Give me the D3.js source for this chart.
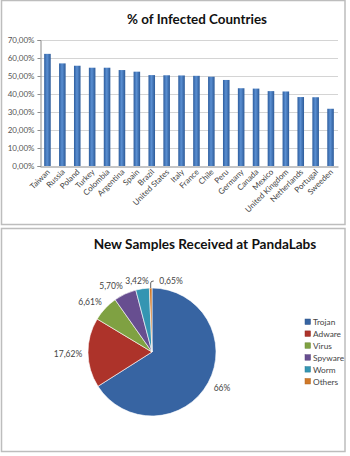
<!DOCTYPE html>
<html>
<head>
<meta charset="utf-8">
<script src="https://cdn.jsdelivr.net/npm/d3@7"></script>
<style>
  html, body { margin: 0; padding: 0; background: #fff; }
  svg { display: block; }
  text { font-family: Lato, "Open Sans", sans-serif; }
</style>
</head>
<body>
<svg id="chart" width="350" height="456"></svg>
<script>
// Infection rate by country
const countries = ["Taiwan", "Russia", "Poland", "Turkey", "Colombia", "Argentina", "Spain", "Brazil",
  "United States", "Italy", "France", "Chile", "Peru", "Germany", "Canada", "Mexico",
  "United Kingdom", "Netherlands", "Portugal", "Sweeden"];
const infected = [62.3, 57.0, 55.7, 54.6, 54.6, 53.3, 52.4, 50.5, 50.4, 50.3, 50.1, 49.6, 47.8,
  43.2, 43.0, 41.6, 41.4, 38.3, 38.2, 31.8];
const yTicks = [0, 10, 20, 30, 40, 50, 60, 70];

// Malware sample breakdown
const sampleTypes = ["Trojan", "Adware", "Virus", "Spyware", "Worm", "Others"];
const sampleShares = [66, 17.62, 6.61, 5.70, 3.42, 0.65];
const sampleLabels = ["66%", "17,62%", "6,61%", "5,70%", "3,42%", "0,65%"];
const sampleColors = ["#3d6fb4", "#c0392f", "#8db34a", "#7357a0", "#3aa6c6", "#e7862d"];

const svg = d3.select("#chart");
const defs = svg.append("defs");

// Panel frames
svg.append("rect").attr("x", 1.5).attr("y", 0.5).attr("width", 343.5).attr("height", 224)
  .attr("fill", "#fff").attr("stroke", "#bdbdbd").attr("stroke-width", 1.5);
svg.append("rect").attr("x", 1.5).attr("y", 228.5).attr("width", 343.5).attr("height", 223)
  .attr("fill", "#fff").attr("stroke", "#bdbdbd").attr("stroke-width", 1.5);

// ---------- Bar chart ----------
const x = d3.scaleBand().domain(countries).range([40, 338]).paddingInner(0.56).paddingOuter(0.28);
const y = d3.scaleLinear().domain([0, 70]).range([166, 40]);

svg.append("text").attr("x", 197).attr("y", 24).attr("text-anchor", "middle")
  .attr("font-size", 13.4).attr("font-weight", "bold").attr("fill", "#111")
  .text("% of Infected Countries");

// grid
svg.append("g").selectAll("line").data(yTicks.slice(1)).join("line")
  .attr("x1", 40).attr("x2", 338)
  .attr("y1", d => Math.round(y(d)) + 0.5).attr("y2", d => Math.round(y(d)) + 0.5)
  .attr("stroke", "#d4d4d4").attr("stroke-width", 1);

const yAxis = svg.append("g").attr("transform", "translate(40.5,0)")
  .call(d3.axisLeft(y).tickValues(yTicks).tickSize(3)
    .tickFormat(d => d3.format(".2f")(d).replace(".", ",") + "%"));
yAxis.select(".domain").attr("stroke", "#8c8c8c");
yAxis.selectAll(".tick line").attr("stroke", "#8c8c8c");
yAxis.selectAll("text").attr("font-size", 8).attr("fill", "#555").attr("x", -6)
  .attr("font-family", "Lato, sans-serif");

const barGrad = defs.append("linearGradient").attr("id", "barGrad")
  .attr("x1", 0).attr("x2", 1).attr("y1", 0).attr("y2", 0);
barGrad.append("stop").attr("offset", 0).attr("stop-color", "#2d5d9e");
barGrad.append("stop").attr("offset", 0.45).attr("stop-color", "#5a8fd2");
barGrad.append("stop").attr("offset", 1).attr("stop-color", "#2c5a98");

svg.append("g").selectAll("rect").data(countries).join("rect")
  .attr("x", d => x(d)).attr("width", x.bandwidth())
  .attr("y", (d, i) => y(infected[i])).attr("height", (d, i) => y(0) - y(infected[i]))
  .attr("fill", "url(#barGrad)");

const xAxis = svg.append("g").attr("transform", "translate(0,166.5)")
  .call(d3.axisBottom(x).tickSize(0).tickSizeOuter(0));
xAxis.select(".domain").attr("stroke", "#8c8c8c");
xAxis.selectAll("text")
  .attr("font-size", 8).attr("fill", "#444").attr("font-family", "Lato, sans-serif")
  .attr("text-anchor", "end").attr("dy", 0).attr("y", 0)
  .attr("transform", "translate(3,6) rotate(-45)");

// ---------- Pie chart ----------
svg.append("text").attr("x", 205).attr("y", 249).attr("text-anchor", "middle")
  .attr("font-size", 13.6).attr("font-weight", "bold").attr("fill", "#111")
  .text("New Samples Received at PandaLabs");

const cx = 152, cy = 352, r = 64;
const pie = d3.pie().sort(null).value(d => d)(sampleShares);
const arc = d3.arc().innerRadius(0).outerRadius(r);

sampleColors.forEach((c, i) => {
  const g = defs.append("radialGradient").attr("id", "slice" + i)
    .attr("gradientUnits", "userSpaceOnUse")
    .attr("cx", cx).attr("cy", cy).attr("r", r);
  g.append("stop").attr("offset", 0).attr("stop-color", d3.color(c).brighter(0.15));
  g.append("stop").attr("offset", 0.85).attr("stop-color", c);
  g.append("stop").attr("offset", 0.96).attr("stop-color", d3.color(c).brighter(0.5));
  g.append("stop").attr("offset", 1).attr("stop-color", d3.color(c).darker(0.3));
});

const pg = svg.append("g").attr("transform", `translate(${cx},${cy})`);
pg.selectAll("path").data(pie).join("path")
  .attr("d", arc).attr("fill", (d, i) => `url(#slice${i})`)
  .attr("stroke", "#fff").attr("stroke-width", 0.6);

// value labels
const labelPos = [[222, 391], [68, 357], [90, 305], [111, 289], [137, 284], [171, 284]];
svg.append("g").selectAll("text").data(sampleLabels).join("text")
  .attr("x", (d, i) => labelPos[i][0]).attr("y", (d, i) => labelPos[i][1])
  .attr("text-anchor", "middle").attr("font-size", 8.5).attr("fill", "#444")
  .text(d => d);

// leader for the smallest slice
const small = pie[5];
const ang = (small.startAngle + small.endAngle) / 2;
const sx = cx + Math.sin(ang) * r, sy = cy - Math.cos(ang) * r;
svg.append("path")
  .attr("d", `M${sx},${sy} L${sx},${sy - 5} Q${sx},${sy - 7} ${sx + 3},${sy - 7}`)
  .attr("fill", "none").attr("stroke", "#333").attr("stroke-width", 0.8);

// legend
const lg = svg.append("g").attr("transform", "translate(305,319)");
const rows = lg.selectAll("g").data(sampleTypes).join("g")
  .attr("transform", (d, i) => `translate(0,${i * 11.9})`);
rows.append("rect").attr("width", 5.5).attr("height", 5.5).attr("y", 0)
  .attr("fill", (d, i) => d3.color(sampleColors[i]).darker(0.3))
  .attr("stroke", (d, i) => d3.color(sampleColors[i]).darker(0.8)).attr("stroke-width", 0.5);
rows.append("text").attr("x", 8).attr("y", 6).attr("font-size", 8.3).attr("fill", "#444")
  .text(d => d);
</script>
</body>
</html>
